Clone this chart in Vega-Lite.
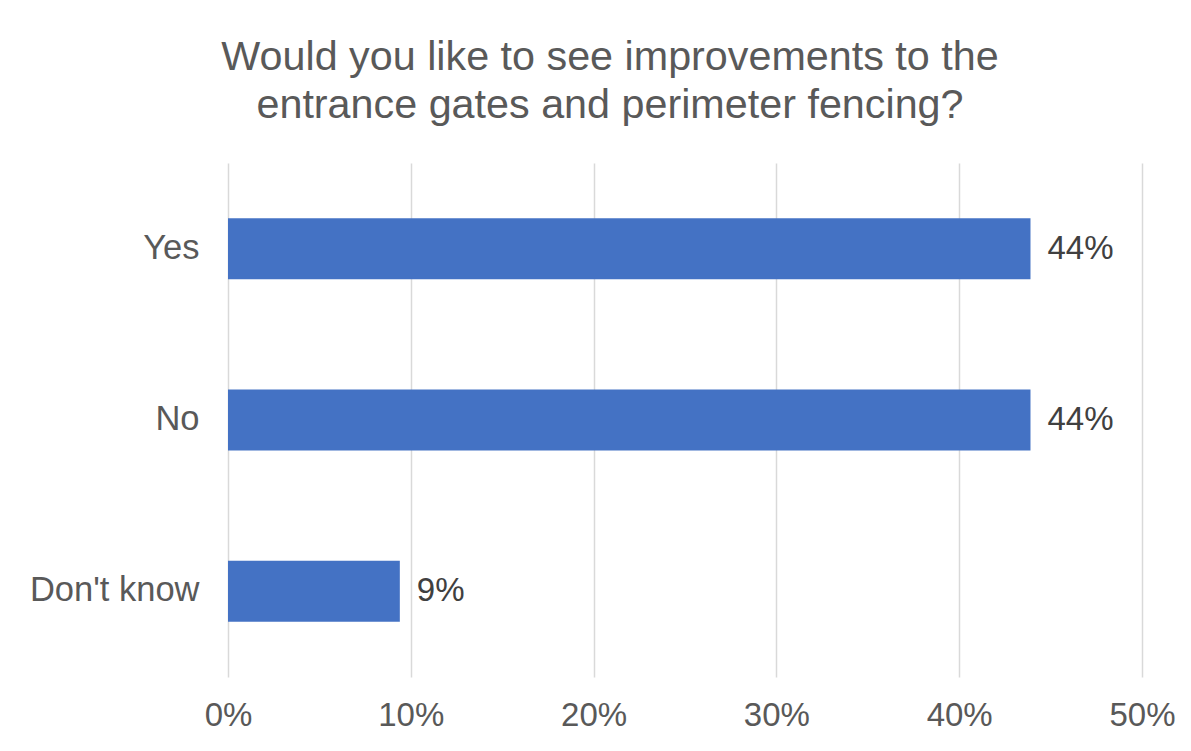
{
  "$schema": "https://vega.github.io/schema/vega-lite/v6.json",
  "width": 914,
  "height": 514,
  "autosize": {"type": "none"},
  "padding": {"left": 228, "top": 163, "right": 49, "bottom": 74},
  "background": "white",
  "config": {"view": {"stroke": null}},
  "title": {
    "text": ["Would you like to see improvements to the", "entrance gates and perimeter fencing?"],
    "anchor": "middle",
    "frame": "group",
    "dx": -75,
    "offset": 37,
    "fontSize": 41.3,
    "font": "Liberation Sans",
    "fontWeight": "normal",
    "color": "#595959",
    "lineHeight": 48
  },
  "data": {
    "values": [
      {"answer": "Yes", "share": 0.439},
      {"answer": "No", "share": 0.439},
      {"answer": "Don't know", "share": 0.094}
    ]
  },
  "encoding": {
    "y": {
      "field": "answer",
      "type": "nominal",
      "sort": null,
      "title": null,
      "scale": {"paddingInner": 0.644, "paddingOuter": 0.322},
      "axis": {
        "domain": false,
        "ticks": false,
        "grid": false,
        "labelFont": "Liberation Sans",
        "labelFontSize": 34.5,
        "labelColor": "#595959",
        "labelPadding": 29
      }
    },
    "x": {
      "field": "share",
      "type": "quantitative",
      "title": null,
      "scale": {"domain": [0, 0.5], "nice": false},
      "axis": {
        "values": [0, 0.1, 0.2, 0.3, 0.4, 0.5],
        "format": ".0%",
        "domain": false,
        "ticks": false,
        "grid": true,
        "gridColor": "#D9D9D9",
        "gridWidth": 1.5,
        "labelFont": "Liberation Sans",
        "labelFontSize": 33,
        "labelColor": "#595959",
        "labelPadding": 22,
        "labelFlush": false
      }
    }
  },
  "layer": [
    {"mark": {"type": "bar", "color": "#4472C4"}},
    {
      "mark": {
        "type": "text",
        "align": "left",
        "baseline": "middle",
        "dx": 17,
        "font": "Liberation Sans",
        "fontSize": 33,
        "color": "#404040"
      },
      "encoding": {"text": {"field": "share", "type": "quantitative", "format": ".0%"}}
    }
  ]
}
